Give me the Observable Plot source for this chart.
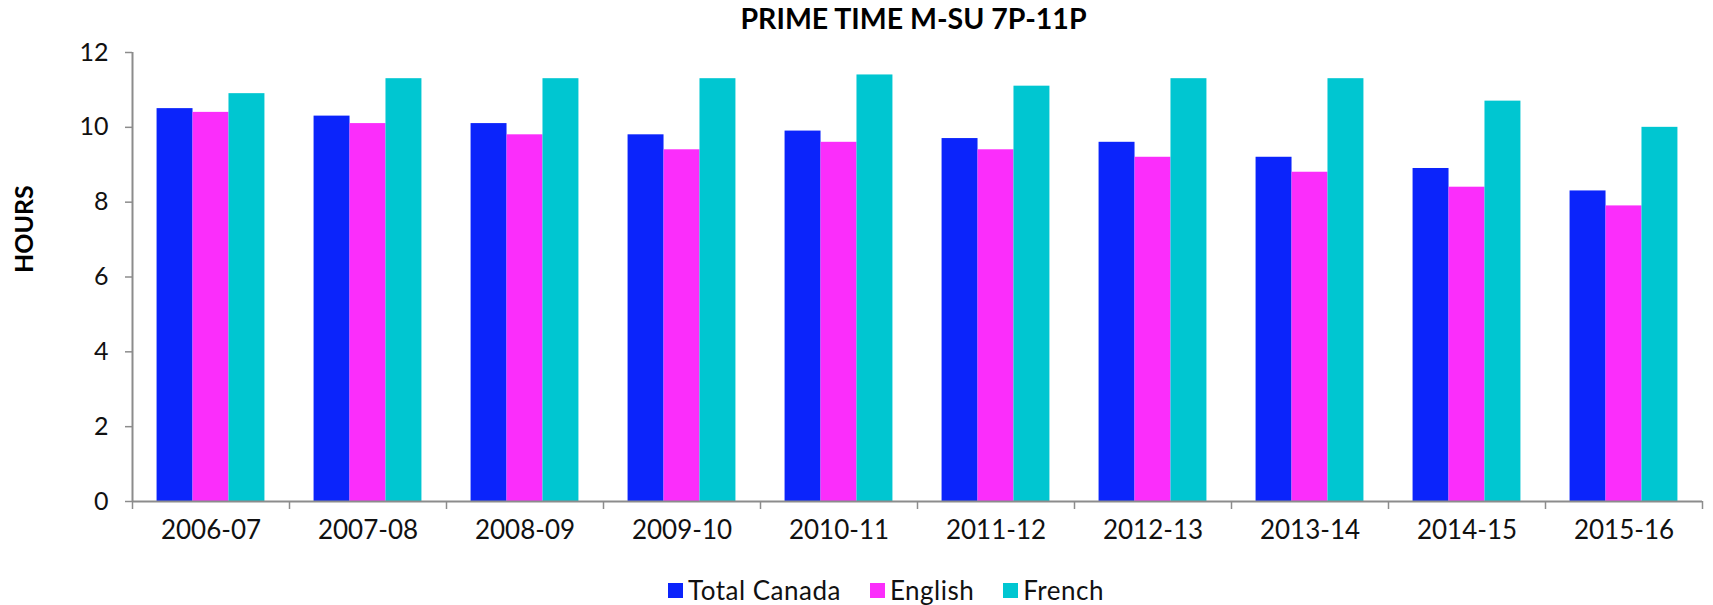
<!DOCTYPE html>
<html>
<head>
<meta charset="utf-8">
<script src="https://cdn.jsdelivr.net/npm/d3@7"></script>
<script src="https://cdn.jsdelivr.net/npm/@observablehq/plot@0.6"></script>
<style>
  html, body { margin: 0; padding: 0; background: #fff; }
  body { position: relative; width: 1713px; height: 605px; overflow: hidden; font-family: Lato, "Liberation Sans", sans-serif; }
  #title { position: absolute; left: 0; top: 0; width: 1713px; height: 40px; line-height: 37px; text-align: center; font-weight: bold; font-size: 28.5px; color: #000; padding-left: 114px; box-sizing: border-box; white-space: nowrap; z-index: 2; }
  #chart { position: absolute; left: 0; top: 0; }
  #legend { position: absolute; left: 668px; top: 572px; height: 36px; display: flex; align-items: center; font-size: 26px; letter-spacing: 0.5px; color: #111; white-space: nowrap; }
  .item { display: flex; align-items: center; margin-right: 29px; }
  .sw { width: 15px; height: 15px; margin-right: 5px; }
</style>
</head>
<body>
<div id="chart"></div>
<div id="title">PRIME TIME M-SU 7P-11P</div>
<div id="legend"></div>
<script>
const years = ["2006-07","2007-08","2008-09","2009-10","2010-11","2011-12","2012-13","2013-14","2014-15","2015-16"];
const seriesNames = ["Total Canada", "English", "French"];
const totalCanada = [10.5, 10.3, 10.1, 9.8, 9.9, 9.7, 9.6, 9.2, 8.9, 8.3];
const english     = [10.4, 10.1, 9.8, 9.4, 9.6, 9.4, 9.2, 8.8, 8.4, 7.9];
const french      = [10.9, 11.3, 11.3, 11.3, 11.4, 11.1, 11.3, 11.3, 10.7, 10.0];
const yTicks = [0, 2, 4, 6, 8, 10, 12];
const colors = ["#0b24fb", "#fb2dfb", "#00c6d1"];

const seriesValues = [totalCanada, english, french];
const rows = [];
years.forEach((year, i) => {
  seriesNames.forEach((s, j) => rows.push({i, j, year, series: s, value: seriesValues[j][i]}));
});

const w = 0.229;             // bar width as a fraction of a group
const pad = (1 - 3 * w) / 2; // space before first bar in group
const grey = "#8c8c8c";
const font = "Lato, 'Liberation Sans', sans-serif";

const chart = Plot.plot({
  width: 1713,
  height: 561,
  marginTop: 52,
  marginBottom: 60,
  marginLeft: 132,
  marginRight: 11,
  style: {fontFamily: font, background: "transparent"},
  x: {type: "linear", domain: [0, years.length], axis: null},
  y: {domain: [0, 12], axis: null},
  color: {domain: seriesNames, range: colors},
  marks: [
    Plot.rectY(rows, {
      x1: d => d.i + pad + d.j * w,
      x2: d => d.i + pad + (d.j + 1) * w,
      y1: 0,
      y2: "value",
      fill: "series"
    }),
    Plot.axisY({ticks: yTicks, tickSize: 7, tickPadding: 17, stroke: grey, strokeWidth: 1.5, fill: "#111", fontSize: 25, label: null}),
    Plot.axisX({ticks: d3.range(0, years.length + 1), tickSize: 8, stroke: grey, strokeWidth: 1.5, tickFormat: () => "", label: null}),
    Plot.axisX({ticks: d3.range(years.length).map(i => i + 0.5), tickSize: 0, tickPadding: 19, tickFormat: v => years[Math.floor(v)], fill: "#111", fontSize: 26, label: null}),
    Plot.ruleX([0], {stroke: grey, strokeWidth: 2}),
    Plot.ruleY([0], {stroke: grey, strokeWidth: 2}),
    Plot.text(["HOURS"], {frameAnchor: "left", dx: -108, dy: -4, rotate: -90, fontSize: 25, fontWeight: "bold", fill: "#000"})
  ]
});
document.getElementById("chart").appendChild(chart);

const legend = document.getElementById("legend");
seriesNames.forEach((s, j) => {
  const item = document.createElement("div");
  item.className = "item";
  const sw = document.createElement("div");
  sw.className = "sw";
  sw.style.background = colors[j];
  const label = document.createElement("span");
  label.textContent = s;
  item.appendChild(sw);
  item.appendChild(label);
  legend.appendChild(item);
});
</script>
</body>
</html>
